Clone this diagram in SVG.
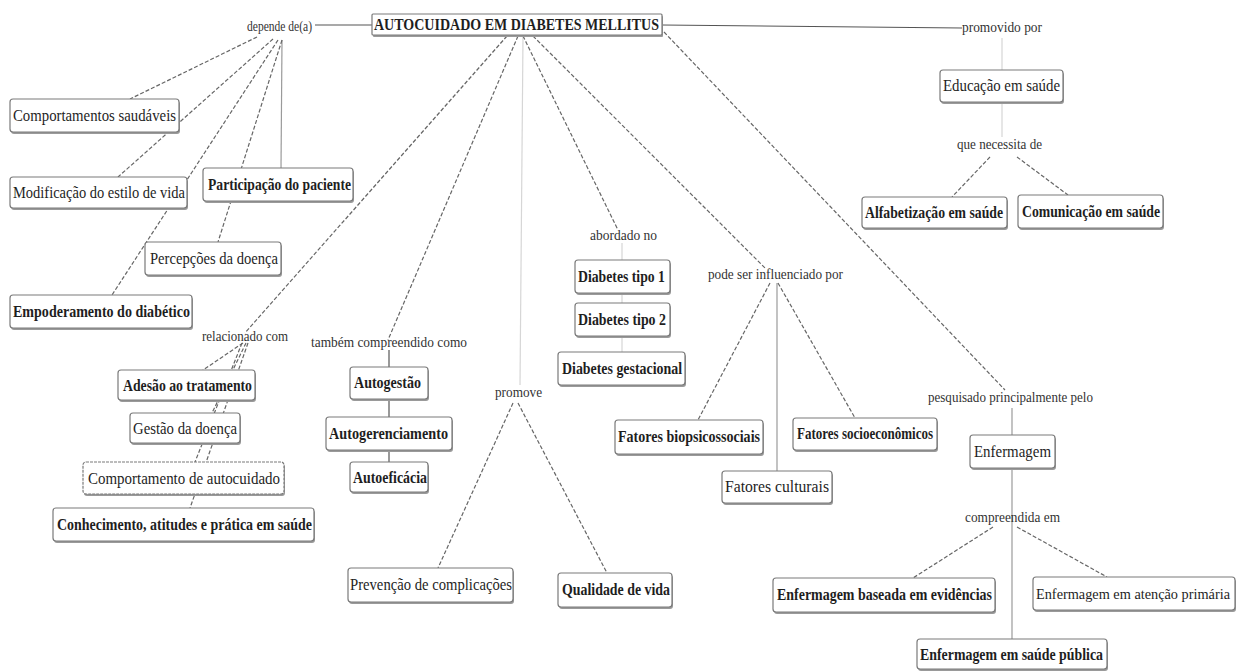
<svg xmlns="http://www.w3.org/2000/svg" width="1239" height="671" viewBox="0 0 1239 671">
<style>
  .bg{fill:#fff}
  .box{fill:#fff;stroke:#7a7a7a;stroke-width:1.2}
  .sh{fill:#9a9a9a}
  .t{font-family:"Liberation Serif","Times New Roman",serif;font-size:17px;fill:#1e1e1e}
  .b{font-weight:bold}
  .lbl{font-family:"Liberation Serif","Times New Roman",serif;font-size:14px;fill:#333}
  .solid{stroke:#555;stroke-width:1.2;fill:none}
  .soft{stroke:#9a9a9a;stroke-width:1.2;fill:none}
  .faint{stroke:#d6d6d6;stroke-width:1.2;fill:none}
  .dash{stroke:#666;stroke-width:1.2;stroke-dasharray:4 2;fill:none}
</style>
<rect class="bg" x="0" y="0" width="1239" height="671"/>

<g id="connectors">
  <line class="solid" x1="315" y1="25" x2="372" y2="25"/>
  <line class="solid" x1="662" y1="25" x2="962" y2="28"/>
  <line class="soft" x1="282" y1="40" x2="281" y2="168"/>
  <line class="dash" x1="257" y1="37" x2="130" y2="99"/>
  <line class="dash" x1="273" y1="39" x2="118" y2="177"/>
  <line class="dash" x1="278" y1="40" x2="112" y2="295"/>
  <line class="dash" x1="282" y1="40" x2="218" y2="242"/>
  <line class="dash" x1="507" y1="36" x2="245" y2="333"/>
  <line class="dash" x1="518" y1="36" x2="388" y2="340"/>
  <line class="faint" x1="523" y1="36" x2="520" y2="385"/>
  <line class="dash" x1="523" y1="36" x2="618" y2="230"/>
  <line class="dash" x1="533" y1="36" x2="765" y2="268"/>
  <line class="dash" x1="664" y1="32" x2="1005" y2="390"/>
  <line class="dash" x1="243" y1="343" x2="203" y2="370"/>
  <line class="dash" x1="246" y1="343" x2="212" y2="413"/>
  <line class="dash" x1="242" y1="343" x2="195" y2="462"/>
  <line class="dash" x1="248" y1="343" x2="190" y2="508"/>
  <line class="solid" x1="389" y1="350" x2="389" y2="462"/>
  <line class="dash" x1="513" y1="403" x2="438" y2="568"/>
  <line class="dash" x1="518" y1="403" x2="607" y2="573"/>
  <line class="faint" x1="622" y1="243" x2="622" y2="352"/>
  <line class="dash" x1="770" y1="283" x2="698" y2="420"/>
  <line class="soft" x1="777" y1="283" x2="777" y2="471"/>
  <line class="dash" x1="778" y1="283" x2="855" y2="418"/>
  <line class="soft" x1="1012" y1="408" x2="1012" y2="642"/>
  <line class="dash" x1="993" y1="527" x2="913" y2="578"/>
  <line class="dash" x1="1017" y1="527" x2="1107" y2="577"/>
  <line class="faint" x1="1002" y1="38" x2="1002" y2="137"/>
  <line class="dash" x1="990" y1="157" x2="952" y2="197"/>
  <line class="dash" x1="1017" y1="157" x2="1068" y2="195"/>
</g>

<g id="title">
  <rect class="sh" x="373" y="16" width="290" height="21" rx="1"/>
  <rect class="box" x="372" y="14" width="290" height="21" rx="1"/>
  <text class="t b" x="374" y="30" style="font-size:16px" textLength="285" lengthAdjust="spacingAndGlyphs">AUTOCUIDADO EM DIABETES MELLITUS</text>
</g>

<g id="lbl-depende"><text class="lbl" x="247" y="31" textLength="65" lengthAdjust="spacingAndGlyphs">depende de(a)</text></g>
<g id="lbl-promovido"><text class="lbl" x="962" y="32" textLength="80" lengthAdjust="spacingAndGlyphs">promovido por</text></g>
<g id="lbl-necessita"><text class="lbl" x="957" y="149" textLength="85" lengthAdjust="spacingAndGlyphs">que necessita de</text></g>
<g id="lbl-relacionado"><text class="lbl" x="202" y="341" textLength="86" lengthAdjust="spacingAndGlyphs">relacionado com</text></g>
<g id="lbl-tambem"><text class="lbl" x="311" y="347" textLength="156" lengthAdjust="spacingAndGlyphs">também compreendido como</text></g>
<g id="lbl-promove"><text class="lbl" x="495" y="397" textLength="47" lengthAdjust="spacingAndGlyphs">promove</text></g>
<g id="lbl-abordado"><text class="lbl" x="590" y="240" textLength="67" lengthAdjust="spacingAndGlyphs">abordado no</text></g>
<g id="lbl-pode"><text class="lbl" x="708" y="279" textLength="135" lengthAdjust="spacingAndGlyphs">pode ser influenciado por</text></g>
<g id="lbl-pesquisado"><text class="lbl" x="928" y="402" textLength="165" lengthAdjust="spacingAndGlyphs">pesquisado principalmente pelo</text></g>
<g id="lbl-compreendida"><text class="lbl" x="965" y="522" textLength="95" lengthAdjust="spacingAndGlyphs">compreendida em</text></g>

<g id="n-comp-saudaveis">
  <rect class="sh" x="11" y="101" width="169" height="33" rx="3"/>
  <rect class="box" x="10" y="99" width="169" height="33" rx="3"/>
  <text class="t" x="13" y="121" textLength="163" lengthAdjust="spacingAndGlyphs">Comportamentos saudáveis</text>
</g>
<g id="n-modificacao">
  <rect class="sh" x="11" y="179" width="177" height="31" rx="3"/>
  <rect class="box" x="10" y="177" width="177" height="31" rx="3"/>
  <text class="t" x="13" y="198" textLength="172" lengthAdjust="spacingAndGlyphs">Modificação do estilo de vida</text>
</g>
<g id="n-participacao">
  <rect class="sh" x="204" y="170" width="150" height="33" rx="3"/>
  <rect class="box" x="203" y="168" width="150" height="33" rx="3"/>
  <text class="t b" x="208" y="190" textLength="143" lengthAdjust="spacingAndGlyphs">Participação do paciente</text>
</g>
<g id="n-percepcoes">
  <rect class="sh" x="146" y="244" width="136" height="33" rx="3"/>
  <rect class="box" x="145" y="242" width="136" height="33" rx="3"/>
  <text class="t" x="150" y="264" textLength="128" lengthAdjust="spacingAndGlyphs">Percepções da doença</text>
</g>
<g id="n-empoderamento">
  <rect class="sh" x="11" y="297" width="182" height="33" rx="3"/>
  <rect class="box" x="10" y="295" width="182" height="33" rx="3"/>
  <text class="t b" x="13" y="317" textLength="177" lengthAdjust="spacingAndGlyphs">Empoderamento do diabético</text>
</g>
<g id="n-adesao">
  <rect class="sh" x="119" y="372" width="137" height="30" rx="3"/>
  <rect class="box" x="118" y="370" width="137" height="30" rx="3"/>
  <text class="t b" x="123" y="391" textLength="129" lengthAdjust="spacingAndGlyphs">Adesão ao tratamento</text>
</g>
<g id="n-gestao">
  <rect class="sh" x="131" y="415" width="110" height="30" rx="3"/>
  <rect class="box" x="130" y="413" width="110" height="30" rx="3"/>
  <text class="t" x="133" y="434" textLength="104" lengthAdjust="spacingAndGlyphs">Gestão da doença</text>
</g>
<g id="n-comp-autocuidado">
  <rect class="sh" x="84" y="464" width="201" height="32" rx="3"/>
  <rect class="box" x="83" y="462" width="201" height="32" rx="3" stroke-dasharray="3 1"/>
  <text class="t" x="88" y="484" textLength="192" lengthAdjust="spacingAndGlyphs">Comportamento de autocuidado</text>
</g>
<g id="n-conhecimento">
  <rect class="sh" x="54" y="510" width="261" height="33" rx="3"/>
  <rect class="box" x="53" y="508" width="261" height="33" rx="3"/>
  <text class="t b" x="57" y="530" textLength="255" lengthAdjust="spacingAndGlyphs">Conhecimento, atitudes e prática em saúde</text>
</g>
<g id="n-autogestao">
  <rect class="sh" x="351" y="369" width="78" height="32" rx="3"/>
  <rect class="box" x="350" y="367" width="78" height="32" rx="3"/>
  <text class="t b" x="354" y="388" textLength="67" lengthAdjust="spacingAndGlyphs">Autogestão</text>
</g>
<g id="n-autogerenciamento">
  <rect class="sh" x="327" y="419" width="126" height="33" rx="3"/>
  <rect class="box" x="326" y="417" width="126" height="33" rx="3"/>
  <text class="t b" x="329" y="439" textLength="119" lengthAdjust="spacingAndGlyphs">Autogerenciamento</text>
</g>
<g id="n-autoeficacia">
  <rect class="sh" x="351" y="464" width="78" height="30" rx="3"/>
  <rect class="box" x="350" y="462" width="78" height="30" rx="3"/>
  <text class="t b" x="353" y="483" textLength="74" lengthAdjust="spacingAndGlyphs">Autoeficácia</text>
</g>
<g id="n-prevencao">
  <rect class="sh" x="349" y="570" width="165" height="34" rx="3"/>
  <rect class="box" x="348" y="568" width="165" height="34" rx="3"/>
  <text class="t" x="350" y="590" textLength="162" lengthAdjust="spacingAndGlyphs">Prevenção de complicações</text>
</g>
<g id="n-qualidade">
  <rect class="sh" x="559" y="575" width="114" height="34" rx="3"/>
  <rect class="box" x="558" y="573" width="114" height="34" rx="3"/>
  <text class="t b" x="562" y="595" textLength="108" lengthAdjust="spacingAndGlyphs">Qualidade de vida</text>
</g>
<g id="n-diabetes1">
  <rect class="sh" x="576" y="262" width="95" height="33" rx="3"/>
  <rect class="box" x="575" y="260" width="95" height="33" rx="3"/>
  <text class="t b" x="578" y="282" textLength="87" lengthAdjust="spacingAndGlyphs">Diabetes tipo 1</text>
</g>
<g id="n-diabetes2">
  <rect class="sh" x="576" y="305" width="95" height="33" rx="3"/>
  <rect class="box" x="575" y="303" width="95" height="33" rx="3"/>
  <text class="t b" x="578" y="325" textLength="88" lengthAdjust="spacingAndGlyphs">Diabetes tipo 2</text>
</g>
<g id="n-gestacional">
  <rect class="sh" x="559" y="354" width="127" height="33" rx="3"/>
  <rect class="box" x="558" y="352" width="127" height="33" rx="3"/>
  <text class="t b" x="562" y="374" textLength="120" lengthAdjust="spacingAndGlyphs">Diabetes gestacional</text>
</g>
<g id="n-biopsico">
  <rect class="sh" x="616" y="422" width="148" height="34" rx="3"/>
  <rect class="box" x="615" y="420" width="148" height="34" rx="3"/>
  <text class="t b" x="618" y="442" textLength="142" lengthAdjust="spacingAndGlyphs">Fatores biopsicossociais</text>
</g>
<g id="n-culturais">
  <rect class="sh" x="723" y="473" width="110" height="32" rx="3"/>
  <rect class="box" x="722" y="471" width="110" height="32" rx="3"/>
  <text class="t" x="725" y="492" textLength="104" lengthAdjust="spacingAndGlyphs">Fatores culturais</text>
</g>
<g id="n-socio">
  <rect class="sh" x="794" y="420" width="144" height="32" rx="3"/>
  <rect class="box" x="793" y="418" width="144" height="32" rx="3"/>
  <text class="t b" x="797" y="439" textLength="136" lengthAdjust="spacingAndGlyphs">Fatores socioeconômicos</text>
</g>
<g id="n-enfermagem">
  <rect class="sh" x="971" y="437" width="85" height="33" rx="3"/>
  <rect class="box" x="970" y="435" width="85" height="33" rx="3"/>
  <text class="t" x="974" y="457" textLength="77" lengthAdjust="spacingAndGlyphs">Enfermagem</text>
</g>
<g id="n-evidencias">
  <rect class="sh" x="774" y="580" width="222" height="34" rx="3"/>
  <rect class="box" x="773" y="578" width="222" height="34" rx="3"/>
  <text class="t b" x="777" y="600" textLength="215" lengthAdjust="spacingAndGlyphs">Enfermagem baseada em evidências</text>
</g>
<g id="n-primaria">
  <rect class="sh" x="1034" y="579" width="202" height="33" rx="3"/>
  <rect class="box" x="1033" y="577" width="202" height="33" rx="3"/>
  <text class="t" x="1036" y="599" style="font-size:14px" textLength="194" lengthAdjust="spacingAndGlyphs">Enfermagem em atenção primária</text>
</g>
<g id="n-publica">
  <rect class="sh" x="918" y="641" width="190" height="30" rx="3"/>
  <rect class="box" x="917" y="639" width="190" height="30" rx="3"/>
  <text class="t b" x="920" y="660" textLength="183" lengthAdjust="spacingAndGlyphs">Enfermagem em saúde pública</text>
</g>
<g id="n-educacao">
  <rect class="sh" x="941" y="72" width="123" height="32" rx="3"/>
  <rect class="box" x="940" y="70" width="123" height="32" rx="3"/>
  <text class="t" x="943" y="91" textLength="117" lengthAdjust="spacingAndGlyphs">Educação em saúde</text>
</g>
<g id="n-alfabetizacao">
  <rect class="sh" x="863" y="199" width="145" height="31" rx="3"/>
  <rect class="box" x="862" y="197" width="145" height="31" rx="3"/>
  <text class="t b" x="865" y="218" textLength="138" lengthAdjust="spacingAndGlyphs">Alfabetização em saúde</text>
</g>
<g id="n-comunicacao">
  <rect class="sh" x="1019" y="197" width="145" height="33" rx="3"/>
  <rect class="box" x="1018" y="195" width="145" height="33" rx="3"/>
  <text class="t b" x="1022" y="217" textLength="138" lengthAdjust="spacingAndGlyphs">Comunicação em saúde</text>
</g>
</svg>
